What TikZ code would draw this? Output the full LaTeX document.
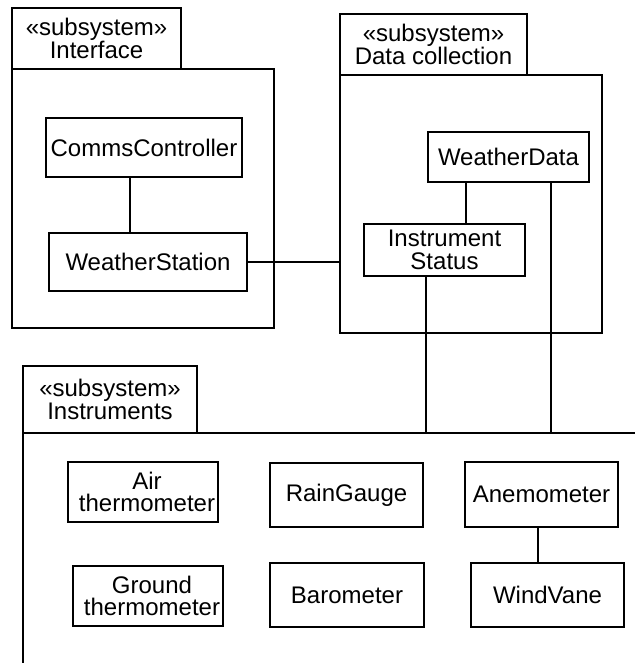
\documentclass[tikz,border=0pt]{standalone}
\usepackage{fontspec}
\newfontfamily\umlfont{Liberation Sans}
\begin{document}
\begin{tikzpicture}[x=1pt,y=-1pt,
  every node/.style={font={\umlfont\fontsize{24}{22.5}\selectfont}},
  outline/.style={draw, line width=2.8pt},
  pkgtab/.style={outline, align=center, inner sep=0pt},
  pkgbody/.style={outline, inner sep=0pt},
  cls/.style={outline, align=center, inner sep=0pt},
  link/.style={line width=2.8pt}]
\useasboundingbox (0,0) rectangle (635,663);

% Interface subsystem
\node[pkgbody, minimum width=262pt, minimum height=259pt] (ifbody) at (143,198.5) {};
\node[pkgtab, minimum width=169pt, minimum height=61pt] (iftab) at (96.5,38.5) {«subsystem»\\Interface};
\node[cls, minimum width=196pt, minimum height=59pt] (comms) at (144,147.5) {CommsController};
\node[cls, minimum width=198pt, minimum height=58pt] (ws) at (148,262) {WeatherStation};

% Data collection subsystem
\node[pkgbody, minimum width=262pt, minimum height=258pt] (dcbody) at (471,204) {};
\node[pkgtab, minimum width=187pt, minimum height=61pt] (dctab) at (433.5,44.5) {«subsystem»\\Data collection};
\node[cls, minimum width=161pt, minimum height=50pt] (wd) at (508.5,157) {WeatherData};
\node[cls, minimum width=161pt, minimum height=52pt] (is) at (444.5,250) {Instrument\\Status};

% Instruments subsystem (open frame)
\coordinate (instTop) at (23,433);
\draw[link] (23,663) -- (instTop) -- (635,433);
\node[pkgtab, minimum width=174pt, minimum height=67pt] (insttab) at (110,399.5) {«subsystem»\\Instruments};
\node[cls, minimum width=150pt, minimum height=60pt] (air) at (143,492) {\hspace*{8pt}Air\\\hspace*{8pt}thermometer};
\node[cls, minimum width=153pt, minimum height=64pt] (rain) at (346.5,495) {RainGauge};
\node[cls, minimum width=153pt, minimum height=65pt] (anem) at (541.5,494.5) {Anemometer};
\node[cls, minimum width=150pt, minimum height=60pt] (ground) at (148,596) {\hspace*{8pt}Ground\\\hspace*{8pt}thermometer};
\node[cls, minimum width=154pt, minimum height=64pt] (baro) at (347,595) {Barometer};
\node[cls, minimum width=153pt, minimum height=64pt] (wv) at (547.5,595) {WindVane};

% Associations
\coordinate (commsfoot) at ([xshift=-14pt]comms.south);
\draw[link] (commsfoot) -- (commsfoot |- ws.north);
\draw[link] (ws.east) -- (ws.east -| dcbody.west);
\coordinate (wdfoot) at ([xshift=-42.5pt]wd.south);
\draw[link] (wdfoot) -- (wdfoot |- is.north);
\coordinate (isfoot) at ([xshift=-18.5pt]is.south);
\draw[link] (isfoot) -- (isfoot |- instTop);
\coordinate (wdright) at ([xshift=42.5pt]wd.south);
\draw[link] (wdright) -- (wdright |- instTop);
\coordinate (anemfoot) at ([xshift=-3.5pt]anem.south);
\draw[link] (anemfoot) -- (anemfoot |- wv.north);
\end{tikzpicture}
\end{document}
